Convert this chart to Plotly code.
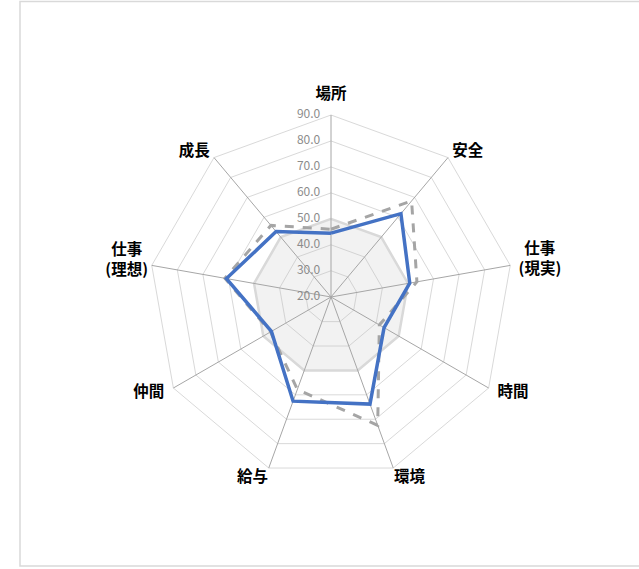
import plotly.graph_objects as go

categories = ["場所", "安全", "仕事(現実)", "時間", "環境", "給与", "仲間", "仕事(理想)", "成長"]
category_labels = ["場所", "安全", "仕事<br>(現実)", "時間", "環境", "給与", "仲間", "仕事<br>(理想)", "成長"]
series_blue = [44.5, 61.8, 50.7, 43.5, 63.8, 62.6, 46.4, 60.8, 52.8]
series_dash = [46.0, 68.2, 53.5, 41.4, 72.5, 57.8, 46.8, 61.4, 55.9]
series_avg = [50.0] * 9
tick_vals = [20, 30, 40, 50, 60, 70, 80, 90]

# label placement (styling)
label_r = [94.8, 92.5, 101.6, 94, 90.9, 90.9, 94, 99.8, 92.5]
label_pos = ["top center", "middle right", "middle center", "middle right", "bottom right",
             "bottom left", "middle left", "middle center", "middle left"]
r_min, r_max = 19.9, 104.0

def close(v):
    return list(v) + [v[0]]

theta = close(categories)

# spokes from the centre to the outer ring
spoke_r, spoke_t = [], []
for c in categories:
    spoke_r += [r_min + 0.01, tick_vals[-1], None]
    spoke_t += [c, c, None]

fig = go.Figure()
fig.add_trace(go.Scatterpolar(r=close(series_avg), theta=theta, mode="lines",
                              fill="toself", fillcolor="rgba(191,191,191,0.2)",
                              line=dict(color="#d9d9d9", width=2.5), showlegend=False))
fig.add_trace(go.Scatterpolar(r=spoke_r, theta=spoke_t, mode="lines",
                              line=dict(color="#a6a6a6", width=1), showlegend=False))
fig.add_trace(go.Scatterpolar(r=close(series_dash), theta=theta, mode="lines",
                              line=dict(color="#a5a5a5", width=3, dash="dash"), showlegend=False))
fig.add_trace(go.Scatterpolar(r=close(series_blue), theta=theta, mode="lines",
                              line=dict(color="#4472c4", width=3.5), showlegend=False))
# radial tick labels
fig.add_trace(go.Scatterpolar(r=tick_vals, theta=[categories[0]] * len(tick_vals), mode="text",
                              text=[f"{v:.1f}\u00a0\u00a0\u00a0\u00a0" for v in tick_vals],
                              textposition="middle left", cliponaxis=False,
                              textfont=dict(size=12, color="#8c8c8c", family="Noto Sans CJK JP"),
                              showlegend=False))
# category labels
fig.add_trace(go.Scatterpolar(r=label_r, theta=categories, mode="text", text=category_labels,
                              textposition=label_pos, cliponaxis=False,
                              textfont=dict(size=15.5, color="#000000", family="Noto Sans CJK JP",
                                            weight="bold"),
                              showlegend=False))

W, H = 639, 569
cx, cy = 331, 297
R = 182 * (r_max - r_min) / (tick_vals[-1] - r_min)
fig.update_layout(
    width=W, height=H,
    margin=dict(l=0, r=0, t=0, b=0),
    paper_bgcolor="white",
    font=dict(family="Noto Sans CJK JP", color="#000000"),
    showlegend=False,
    hovermode=False,
    polar=dict(
        domain=dict(x=[(cx - R) / W, (cx + R) / W], y=[(H - cy - R) / H, (H - cy + R) / H]),
        gridshape="linear",
        bgcolor="white",
        radialaxis=dict(range=[r_min, r_max], tickvals=tick_vals, angle=90, showticklabels=False,
                        showline=False, gridcolor="#d9d9d9", gridwidth=1, ticks=""),
        angularaxis=dict(rotation=90, direction="clockwise", showgrid=False,
                         categoryorder="array", categoryarray=categories,
                         showline=False, ticks="", showticklabels=False),
    ),
    shapes=[dict(type="rect", xref="paper", yref="paper", x0=20 / W, x1=1.02,
                 y0=(H - 566) / H, y1=(H - 1.5) / H, line=dict(color="#d9d9d9", width=1.5))],
)

fig.write_html("out.html", post_script="document.body.style.margin='0';",
               config={"displayModeBar": False})
